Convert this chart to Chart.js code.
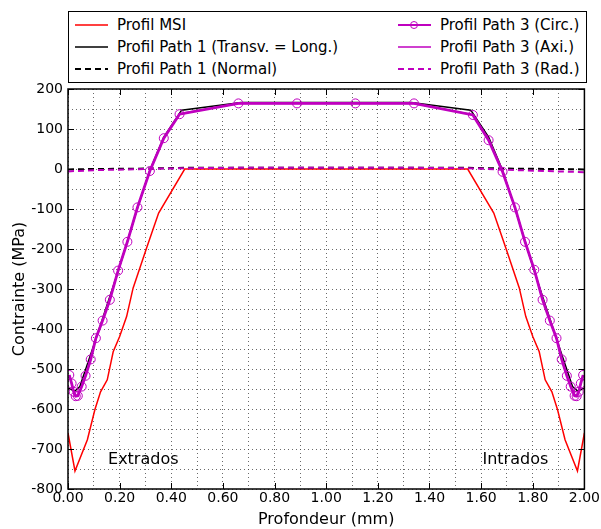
<!DOCTYPE html>
<html>
<head>
<meta charset="utf-8">
<script src="https://cdn.jsdelivr.net/npm/chart.js@4.4.1/dist/chart.umd.min.js"></script>
<style>
  body { margin: 0; background: #fff; }
  #wrap { position: relative; width: 601px; height: 529px; }
  #legend {
    position: absolute; left: 68px; top: 11px; width: 517px; height: 70px;
    border: 1px solid #000; background: #fff;
    font-family: "DejaVu Sans", sans-serif; font-size: 15px; color: #000;
  }
  .item { position: absolute; height: 22px; line-height: 22px; white-space: nowrap; }
  .item svg { position: absolute; left: 0; top: 0; }
  .item span { position: absolute; left: 43px; top: 0; }
</style>
</head>
<body>
<div id="wrap">
  <canvas id="myChart" width="601" height="529"></canvas>
  <div id="legend"></div>
</div>
<script>
// LES DONNEES : ---------------------------------------------------

const xTicks = [0, 0.2, 0.4, 0.6, 0.8, 1.0, 1.2, 1.4, 1.6, 1.8, 2.0];
const yTicks = [200, 100, 0, -100, -200, -300, -400, -500, -600, -700, -800];

// Profil MSI
const msiX = [0, 0.027, 0.075, 0.104, 0.126, 0.152, 0.175, 0.2, 0.227, 0.252, 0.304, 0.351, 0.452,
              1.548, 1.649, 1.696, 1.748, 1.773, 1.8, 1.825, 1.848, 1.874, 1.896, 1.925, 1.973, 2.0];
const msiY = [-660, -755, -677, -602, -557, -527, -457, -419, -369, -298, -198, -110, 0,
              0, -110, -198, -298, -369, -419, -457, -527, -557, -602, -677, -755, -660];

// Profil Path 1 (Transv. = Long.)
const p1X = [0, 0.015, 0.027, 0.046, 0.108, 0.194, 0.269, 0.317, 0.371, 0.44, 0.67, 1.0, 1.33,
             1.56, 1.629, 1.683, 1.731, 1.806, 1.892, 1.954, 1.973, 1.985, 2.0];
const p1Y = [-548, -552, -555, -544, -425, -256, -98, -3, 80, 147, 166, 166, 166,
             147, 80, -3, -98, -256, -425, -544, -555, -552, -548];

// Profil Path 1 (Normal)
const p1nX = [0, 0.1, 0.3, 0.45, 0.67, 1.0, 1.33, 1.55, 1.7, 1.9, 2.0];
const p1nY = [-1, 0, 1, 3, 3, 3, 3, 3, 1, 0, -1];

// Profil Path 3 (Circ. / Axi.)
const p3X = [0.005, 0.014, 0.022, 0.03, 0.038, 0.053, 0.068, 0.088, 0.108, 0.134, 0.162, 0.194, 0.23,
             0.269, 0.317, 0.371, 0.432, 0.66, 0.887, 1.113, 1.34, 1.568, 1.629, 1.683, 1.731, 1.77,
             1.806, 1.838, 1.866, 1.892, 1.912, 1.932, 1.947, 1.962, 1.97, 1.978, 1.986, 1.995];
const circY = [-515, -536, -557, -568, -567, -544, -517, -476, -423, -379, -327, -254, -182,
               -96, -5, 77, 137, 164, 164, 164, 164, 135, 72, -7, -96, -182,
               -252, -327, -379, -423, -476, -517, -544, -567, -568, -557, -536, -515];
const axiY = [-515, -536, -556, -566, -566, -544, -517, -476, -423, -379, -327, -254, -182,
              -96, -5, 77, 138, 164, 164, 164, 164, 136, 72, -7, -96, -182,
              -252, -327, -379, -423, -476, -517, -544, -566, -566, -556, -536, -515];

// Profil Path 3 (Rad.)
const radX = [0, 0.1, 0.3, 0.45, 0.67, 1.0, 1.33, 1.55, 1.7, 1.9, 2.0];
const radY = [-6, -3, 0, 2, 3, 3, 3, 2, -2, -6, -8];

const labels = ['Profil MSI', 'Profil Path 3 (Circ.)', 'Profil Path 1 (Transv. = Long.)',
                'Profil Path 3 (Axi.)', 'Profil Path 1 (Normal)', 'Profil Path 3 (Rad.)'];

// LES FONCTIONS : ---------------------------------------------------

function pts(xs, ys) {
    return xs.map((x, i) => ({ x: x, y: ys[i] }));
}

const font = '"DejaVu Sans", sans-serif';
const red = '#ff0000';
const mag = '#bf00bf';

const datasets = [
    { label: labels[0], data: pts(msiX, msiY), borderColor: red, borderWidth: 1.5, pointRadius: 0, order: 5 },
    { label: labels[1], data: pts(p3X, circY), borderColor: mag, borderWidth: 2.8, pointRadius: 4.5,
      pointBorderWidth: 1, pointBackgroundColor: 'rgba(0,0,0,0)', pointBorderColor: mag, order: 0 },
    { label: labels[2], data: pts(p1X, p1Y), borderColor: '#000', borderWidth: 1.5, pointRadius: 0, order: 3 },
    { label: labels[3], data: pts(p3X, axiY), borderColor: mag, borderWidth: 1.5, pointRadius: 0, order: 1 },
    { label: labels[4], data: pts(p1nX, p1nY), borderColor: '#000', borderWidth: 2, borderDash: [6, 4], pointRadius: 0, order: 4 },
    { label: labels[5], data: pts(radX, radY), borderColor: mag, borderWidth: 2, borderDash: [6, 4], pointRadius: 0, order: 2 }
];

// cadre, petites graduations et textes Extrados / Intrados
const decor = {
    id: 'decor',
    afterDraw(chart) {
        const c = chart.ctx;
        const a = chart.chartArea;
        const xs = chart.scales.x, ys = chart.scales.y;
        c.save();
        c.strokeStyle = '#000';
        c.lineWidth = 1;
        c.beginPath();
        xTicks.forEach(v => {
            const px = Math.round(xs.getPixelForValue(v)) + 0.5;
            c.moveTo(px, a.bottom); c.lineTo(px, a.bottom - 6);
            c.moveTo(px, a.top); c.lineTo(px, a.top + 6);
        });
        yTicks.forEach(v => {
            const py = Math.round(ys.getPixelForValue(v)) + 0.5;
            c.moveTo(a.left, py); c.lineTo(a.left + 6, py);
            c.moveTo(a.right, py); c.lineTo(a.right - 6, py);
        });
        c.stroke();
        c.lineWidth = 1.5;
        c.strokeRect(a.left, a.top, a.right - a.left, a.bottom - a.top);
        c.fillStyle = '#000';
        c.font = '16px ' + font;
        c.textBaseline = 'middle';
        c.textAlign = 'left';
        c.fillText('Extrados', xs.getPixelForValue(0.155), ys.getPixelForValue(-727));
        c.textAlign = 'right';
        c.fillText('Intrados', xs.getPixelForValue(1.86), ys.getPixelForValue(-727));
        c.restore();
    }
};

const ctx = document.getElementById('myChart');
const myChart = new Chart(ctx, {
    type: 'line',
    data: { datasets: datasets },
    options: {
        responsive: false,
        animation: false,
        layout: { padding: { top: 89, right: 15, left: 0, bottom: 0 } },
        plugins: { legend: { display: false }, tooltip: { enabled: false } },
        scales: {
            x: {
                type: 'linear', min: 0, max: 2,
                afterFit: s => { s.height = 40; },
                afterBuildTicks: s => { s.ticks = xTicks.concat([0.1, 0.3, 0.5, 0.7, 0.9, 1.1, 1.3, 1.5, 1.7, 1.9]).sort((p, q) => p - q).map(v => ({ value: v })); },
                ticks: {
                    color: '#000', font: { family: font, size: 14 }, padding: 1, maxRotation: 0, autoSkip: false,
                    callback: v => xTicks.some(t => Math.abs(t - v) < 1e-6) ? v.toFixed(2) : ''
                },
                grid: { color: '#444', lineWidth: 0.8, drawTicks: false, drawOnChartArea: true },
                border: { display: false, dash: [1, 3] },
                title: { display: true, text: 'Profondeur (mm)', color: '#000', font: { family: font, size: 16 }, padding: { top: 0, bottom: 0 } }
            },
            y: {
                type: 'linear', min: -800, max: 200,
                afterFit: s => { s.width = 68; },
                afterBuildTicks: s => {
                    const t = [];
                    for (let v = -800; v <= 200; v += 50) t.push({ value: v });
                    s.ticks = t;
                },
                ticks: {
                    color: '#000', font: { family: font, size: 14 }, padding: 5, autoSkip: false,
                    callback: v => yTicks.includes(v) ? String(v) : ''
                },
                grid: { color: '#444', lineWidth: 0.8, drawTicks: false },
                border: { display: false, dash: [1, 3] },
                title: { display: true, text: 'Contrainte (MPa)', color: '#000', font: { family: font, size: 16 }, padding: { top: 10, bottom: 0 } }
            }
        }
    },
    plugins: [decor]
});

// legende en deux colonnes
const legend = document.getElementById('legend');
datasets.forEach((d, i) => {
    const col = i % 2, row = Math.floor(i / 2);
    const div = document.createElement('div');
    div.className = 'item';
    div.style.left = (col === 0 ? 5 : 328) + 'px';
    div.style.top = (2 + row * 22) + 'px';
    const dash = d.borderDash ? `stroke-dasharray="${d.borderDash.join(' ')}"` : '';
    const circle = d.pointRadius ? `<circle cx="17" cy="11" r="3.5" fill="none" stroke="${d.borderColor}" stroke-width="1"/>` : '';
    div.innerHTML = `<svg width="36" height="22"><line x1="1" y1="11" x2="34" y2="11" stroke="${d.borderColor}" stroke-width="${Math.min(d.borderWidth, 2)}" ${dash}/>${circle}</svg><span>${d.label}</span>`;
    legend.appendChild(div);
});
</script>
</body>
</html>
